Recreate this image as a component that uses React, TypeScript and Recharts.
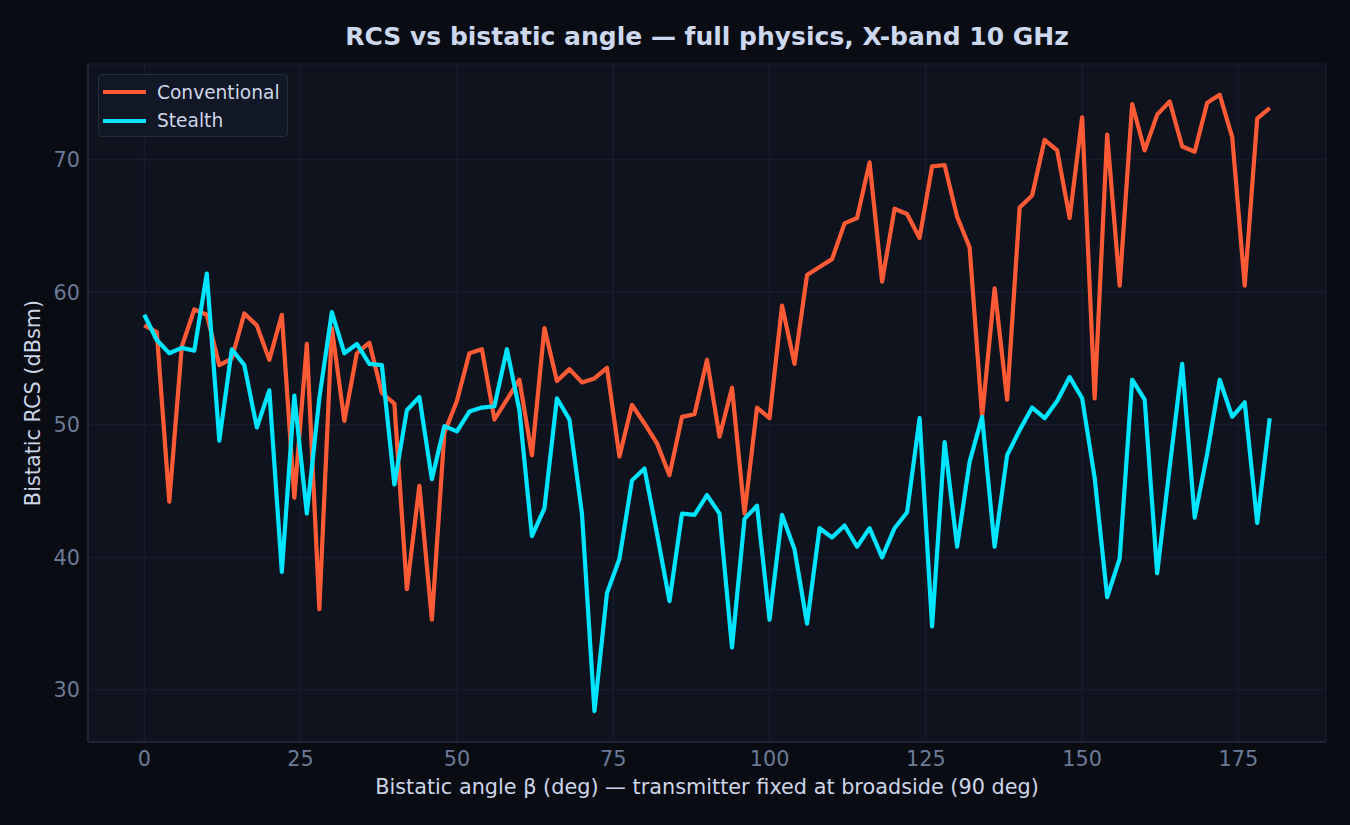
import React from "react";
import {
  LineChart,
  Line,
  XAxis,
  YAxis,
  CartesianGrid,
  Legend,
} from "recharts";

// bistatic angle, deg (0..180 step 2)
const angles = [
  0, 2, 4, 6, 8, 10, 12, 14, 16, 18, 20, 22, 24, 26, 28, 30, 32, 34, 36, 38, 40,
  42, 44, 46, 48, 50, 52, 54, 56, 58, 60, 62, 64, 66, 68, 70, 72, 74, 76, 78, 80,
  82, 84, 86, 88, 90, 92, 94, 96, 98, 100, 102, 104, 106, 108, 110, 112, 114,
  116, 118, 120, 122, 124, 126, 128, 130, 132, 134, 136, 138, 140, 142, 144, 146,
  148, 150, 152, 154, 156, 158, 160, 162, 164, 166, 168, 170, 172, 174, 176, 178,
  180,
];

const conventional = [
  57.5, 57.0, 44.2, 55.9, 58.7, 58.3, 54.5, 55.0, 58.4, 57.5, 54.9, 58.3, 44.5,
  56.1, 36.1, 57.3, 50.3, 55.4, 56.2, 52.4, 51.6, 37.6, 45.4, 35.3, 49.4, 51.8,
  55.4, 55.7, 50.4, 51.9, 53.4, 47.7, 57.3, 53.3, 54.2, 53.2, 53.5, 54.3, 47.6,
  51.5, 50.1, 48.6, 46.2, 50.6, 50.8, 54.9, 49.1, 52.8, 43.3, 51.3, 50.5, 59.0,
  54.6, 61.3, 61.9, 62.5, 65.2, 65.6, 69.8, 60.8, 66.3, 65.9, 64.1, 69.5, 69.6,
  65.7, 63.4, 50.6, 60.3, 51.9, 66.4, 67.3, 71.5, 70.7, 65.6, 73.2, 52.0, 71.9,
  60.5, 74.2, 70.7, 73.4, 74.4, 71.0, 70.6, 74.3, 74.9, 71.7, 60.5, 73.1, 73.9,
];

const stealth = [
  58.3, 56.4, 55.4, 55.8, 55.6, 61.4, 48.8, 55.7, 54.5, 49.8, 52.6, 38.9, 52.2,
  43.3, 52.0, 58.5, 55.4, 56.1, 54.6, 54.5, 45.5, 51.1, 52.1, 45.9, 49.9, 49.5,
  51.0, 51.3, 51.4, 55.7, 51.1, 41.6, 43.7, 52.0, 50.4, 43.3, 28.4, 37.3, 39.9,
  45.8, 46.7, 41.8, 36.7, 43.3, 43.2, 44.7, 43.3, 33.2, 42.9, 43.9, 35.3, 43.2,
  40.6, 35.0, 42.2, 41.5, 42.4, 40.8, 42.2, 40.0, 42.2, 43.4, 50.5, 34.8, 48.7,
  40.8, 47.2, 50.6, 40.8, 47.7, 49.6, 51.3, 50.5, 51.8, 53.6, 52.0, 46.0, 37.0,
  39.9, 53.4, 51.9, 38.8, 46.8, 54.6, 43.0, 47.8, 53.4, 50.6, 51.7, 42.6, 50.5,
];

const xTicks = [0, 25, 50, 75, 100, 125, 150, 175];
const yTicks = [30, 40, 50, 60, 70];

const data = angles.map((a, i) => ({
  angle: a,
  conventional: conventional[i],
  stealth: stealth[i],
}));

const FONT = "'DejaVu Sans', sans-serif";
const W = 1350;
const H = 825;

const LegendBox = ({ payload }: any) => (
  <div
    style={{
      width: 190,
      height: 63,
      boxSizing: "border-box",
      border: "1.5px solid #232d3d",
      borderRadius: 4,
      background: "#111725",
      padding: "3px 0 0 4px",
      fontFamily: FONT,
      fontSize: 18.6,
      color: "#cdd6e8",
      whiteSpace: "nowrap",
    }}
  >
    {(payload || []).map((p: any) => (
      <div
        key={p.value}
        style={{ display: "flex", alignItems: "center", height: 28.5 }}
      >
        <span
          style={{
            display: "inline-block",
            width: 43,
            height: 4,
            background: p.color,
            marginRight: 11,
          }}
        />
        {p.value}
      </div>
    ))}
  </div>
);

export default function App() {
  return (
    <div
      style={{
        position: "fixed",
        left: 0,
        top: 0,
        width: W,
        height: H,
        background: "#090c13",
        fontFamily: FONT,
      }}
    >
      <LineChart
        width={W}
        height={H}
        data={data}
        margin={{ top: 64, right: 24, bottom: 0, left: 0 }}
      >
        <CartesianGrid stroke="#182030" strokeWidth={1} fill="#0e131e" />
        <XAxis
          dataKey="angle"
          type="number"
          domain={[-9, 189]}
          ticks={xTicks}
          interval={0}
          height={83}
          tickLine={false}
          tickSize={6}
          tickMargin={3}
          axisLine={{ stroke: "#222b3b", strokeWidth: 1.5 }}
          tick={{ fill: "#6b7a96", fontSize: 20.8, fontFamily: FONT }}
        />
        <YAxis
          type="number"
          domain={[26.07, 77.22]}
          ticks={yTicks}
          interval={0}
          width={88}
          tickLine={false}
          tickSize={6}
          tickMargin={2}
          axisLine={{ stroke: "#222b3b", strokeWidth: 1.5 }}
          tick={{ fill: "#6b7a96", fontSize: 20.8, fontFamily: FONT }}
        />
        <Legend
          layout="vertical"
          align="center"
          verticalAlign="middle"
          content={<LegendBox />}
          wrapperStyle={{ left: 98, top: 74, width: 190 }}
        />
        <Line
          type="linear"
          dataKey="conventional"
          name="Conventional"
          stroke="#ff5a36"
          strokeWidth={4.2}
          strokeLinejoin="round"
          dot={false}
          isAnimationActive={false}
        />
        <Line
          type="linear"
          dataKey="stealth"
          name="Stealth"
          stroke="#00e5ff"
          strokeWidth={4.2}
          strokeLinejoin="round"
          dot={false}
          isAnimationActive={false}
        />
      </LineChart>
      <svg
        width={W}
        height={H}
        style={{ position: "absolute", left: 0, top: 0, pointerEvents: "none" }}
      >
        <text
          x={707}
          y={45}
          textAnchor="middle"
          fontFamily={FONT}
          fontSize={25}
          fontWeight="bold"
          fill="#cdd8ee"
        >
          RCS vs bistatic angle — full physics, X-band 10 GHz
        </text>
        <text
          x={707}
          y={794}
          textAnchor="middle"
          fontFamily={FONT}
          fontSize={20.8}
          fill="#cdd6e8"
        >
          Bistatic angle β (deg) — transmitter fixed at broadside (90 deg)
        </text>
        <text
          transform="translate(40,403) rotate(-90)"
          textAnchor="middle"
          fontFamily={FONT}
          fontSize={20.8}
          fill="#cdd6e8"
        >
          Bistatic RCS (dBsm)
        </text>
      </svg>
    </div>
  );
}
